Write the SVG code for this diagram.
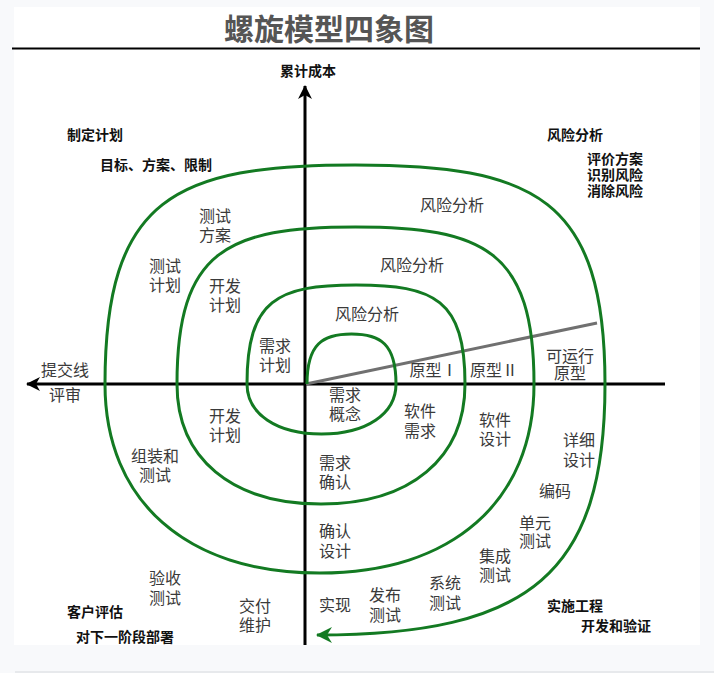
<svg xmlns="http://www.w3.org/2000/svg" width="714" height="673" viewBox="0 0 714 673">
<defs>
<style>
.t{font-family:"Noto Sans CJK SC","Noto Sans",sans-serif;font-size:16px;fill:#3a3a3a;text-anchor:middle}
.b{font-family:"Noto Sans CJK SC","Noto Sans",sans-serif;font-size:14px;font-weight:bold;fill:#111}
.ttl{font-family:"Noto Sans CJK SC","Noto Sans",sans-serif;font-size:30px;font-weight:bold;fill:#555;text-anchor:middle}
.axis{stroke:#000;stroke-width:3;fill:none}
.sp{stroke:#137a22;stroke-width:3;fill:none}
</style>
<marker id="ah" viewBox="0 0 14 14" refX="13" refY="7" markerWidth="14" markerHeight="14" markerUnits="userSpaceOnUse" orient="auto">
<path d="M0,0 L14,7 L0,14 L4,7 z" fill="#000"/>
</marker>
<marker id="gh" viewBox="0 0 16 16" refX="15" refY="8" markerWidth="16" markerHeight="16" markerUnits="userSpaceOnUse" orient="auto">
<path d="M0,0 L16,8 L0,16 L5,8 z" fill="#137a22"/>
</marker>
</defs>
<rect x="0" y="0" width="714" height="673" fill="#f8f9fb"/>
<rect x="14" y="7" width="686" height="638" fill="#ffffff"/>
<line x1="15" y1="672" x2="714" y2="672" stroke="#e2e3e7" stroke-width="1.5"/>
<g id="title">
<text class="ttl" x="329" y="40">螺旋模型四象图</text>
<line x1="12" y1="48.5" x2="700" y2="48.5" stroke="#000" stroke-width="2"/>
</g>
<g id="connectors">
<line class="axis" x1="665" y1="384" x2="27" y2="384" marker-end="url(#ah)"/>
<line class="axis" x1="305" y1="645" x2="305" y2="86" marker-end="url(#ah)"/>
<line x1="306" y1="384" x2="597" y2="323" stroke="#707070" stroke-width="3"/>
<path class="sp" marker-end="url(#gh)" d="M307,384 C307,344 322.6,334 351.5,334 C380.4,334 396,344 396,384 C396,414 366.2,434 321.5,434 C276.8,434 247,414 247,384 C247,299.8 277.5,285 356,285 C434.5,285 465,299.8 465,384 C465,458.4 410.3,504 321,504 C231.7,504 177,458.4 177,384 C177,250.5 227,227 355.5,227 C484,227 534,250.5 534,384 C534,501.2 452.5,573 319.5,573 C186.5,573 105,501.2 105,384 C105,197.8 175,165 355,165 C535,165 605,197.8 605,384 C605,573 531,635 317,635"/>
</g>
<g id="axis-labels">
<text class="b" x="280" y="76">累计成本</text>
<text class="t" x="65" y="376">提交线</text>
<text class="t" x="65" y="400.5">评审</text>
</g>
<g id="quadrant-notes">
<text class="b" x="67" y="140">制定计划</text>
<text class="b" x="100" y="169.5">目标、方案、限制</text>
<text class="b" x="547" y="139.5">风险分析</text>
<text class="b" x="587" y="164">评价方案</text>
<text class="b" x="587" y="179.5">识别风险</text>
<text class="b" x="587" y="195.5">消除风险</text>
<text class="b" x="67" y="617">客户评估</text>
<text class="b" x="76" y="642">对下一阶段部署</text>
<text class="b" x="547" y="611">实施工程</text>
<text class="b" x="581" y="631">开发和验证</text>
</g>
<g id="upper-labels">
<text class="t" x="452" y="210.5">风险分析</text>
<text class="t" x="412" y="270.5">风险分析</text>
<text class="t" x="367" y="320">风险分析</text>
<text class="t" x="215" y="221.5">测试</text><text class="t" x="215" y="240.5">方案</text>
<text class="t" x="165" y="271.5">测试</text><text class="t" x="165" y="290.5">计划</text>
<text class="t" x="225" y="291.5">开发</text><text class="t" x="225" y="310.5">计划</text>
<text class="t" x="275" y="351.5">需求</text><text class="t" x="275" y="370.5">计划</text>
<text class="t" x="433.5" y="376">原型Ⅰ</text>
<text class="t" x="494" y="376">原型Ⅱ</text>
<text class="t" x="570" y="361.5">可运行</text><text class="t" x="570" y="379">原型</text>
</g>
<g id="lower-labels">
<text class="t" x="345" y="400.5">需求</text><text class="t" x="345" y="420">概念</text>
<text class="t" x="420" y="417">软件</text><text class="t" x="420" y="436.5">需求</text>
<text class="t" x="495" y="425.5">软件</text><text class="t" x="495" y="445">设计</text>
<text class="t" x="579" y="445.5">详细</text><text class="t" x="579" y="465.5">设计</text>
<text class="t" x="555" y="497">编码</text>
<text class="t" x="535" y="529">单元</text><text class="t" x="535" y="547">测试</text>
<text class="t" x="495" y="561.5">集成</text><text class="t" x="495" y="580.5">测试</text>
<text class="t" x="445" y="589">系统</text><text class="t" x="445" y="608.5">测试</text>
<text class="t" x="385" y="600.5">发布</text><text class="t" x="385" y="620.5">测试</text>
<text class="t" x="335" y="610.5">实现</text>
<text class="t" x="335" y="469">需求</text><text class="t" x="335" y="487.5">确认</text>
<text class="t" x="335" y="537">确认</text><text class="t" x="335" y="556.5">设计</text>
<text class="t" x="225" y="421.5">开发</text><text class="t" x="225" y="440.5">计划</text>
<text class="t" x="155" y="461.5">组装和</text><text class="t" x="155" y="480.5">测试</text>
<text class="t" x="165" y="584">验收</text><text class="t" x="165" y="603.5">测试</text>
<text class="t" x="255" y="612">交付</text><text class="t" x="255" y="631">维护</text>
</g>
</svg>
